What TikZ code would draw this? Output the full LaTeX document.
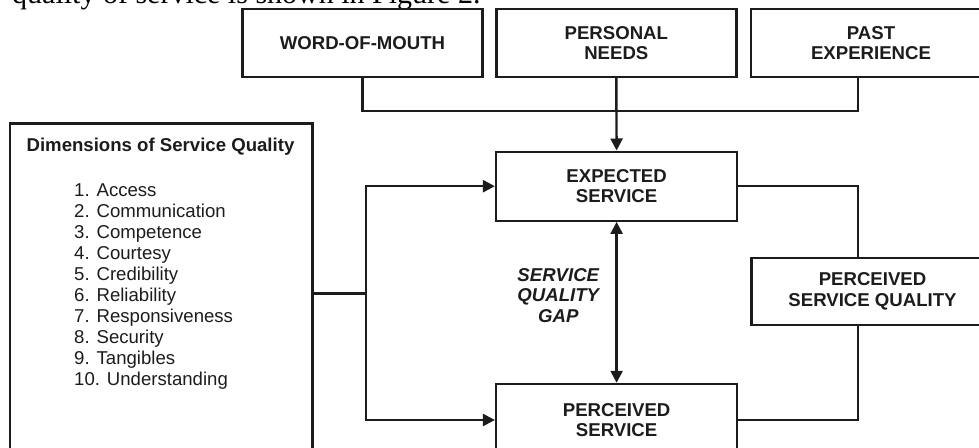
\documentclass[tikz,border=0pt]{standalone}
\usepackage{fontspec}
\setmainfont{Liberation Serif}
\setsansfont{Liberation Sans}
\usepackage{tikz}
\usetikzlibrary{calc}
\usetikzlibrary{arrows.meta}
\tikzset{>={Triangle[length=12pt,width=12pt]}}
\definecolor{ink}{HTML}{1C1C1C}
\tikzstyle{box}=[draw=ink,line width=2.4pt,rectangle,align=center,text=ink,
                 font=\sffamily\bfseries\fontsize{18.6}{20.5}\selectfont]
\tikzstyle{link}=[draw=ink,line width=2.4pt]
\tikzstyle{link a}=[link,->]
\tikzstyle{link aa}=[link,<->]
\tikzstyle{item}=[anchor=base west,inner sep=0,text=ink,
                  font=\sffamily\fontsize{18.6}{21}\selectfont]

\begin{document}
\begin{tikzpicture}[x=1pt,y=-1pt]
            \useasboundingbox (0,0) rectangle (979,447);
            \clip (0,0) rectangle (979,447);

            \def\wbx{240} % width of the upper boxes
            \def\hbx{68}  % height of the boxes
            \def\xjoin{858} % x of the connectors on the right
            \coordinate (bus) at (616,111);
            \coordinate (fork) at (365.7,293.3);

            % CAPTION (cut off at the top)
            \node[anchor=base west,inner sep=0,font=\fontsize{30}{32}\selectfont]
                (cap) at (12,3) {quality of service is shown in Figure 2.};

            % TOP ROW
            \node[box,minimum width=\wbx,minimum height=\hbx] (wom)  at (362.5,43) {WORD-OF-MOUTH};
            \node[box,minimum width=\wbx,minimum height=\hbx] (need) at (616.3,43) {PERSONAL\\NEEDS};
            \node[box,minimum width=\wbx,minimum height=\hbx] (past) at (871,43)   {PAST\\EXPERIENCE};

            % MIDDLE COLUMN
            \node[box,minimum width=241,minimum height=69] (exp) at (616.6,186.2) {EXPECTED\\SERVICE};
            \node[box,minimum width=241,minimum height=72] (per) at (616.6,420)   {PERCEIVED\\SERVICE};
            \node[box,minimum width=242,minimum height=67] (psq) at (872.5,291.3) {PERCEIVED\\SERVICE QUALITY};
            \node[text=ink,align=center,font=\sffamily\bfseries\itshape\fontsize{18.6}{20.5}\selectfont]
                (gap) at (558.3,295.5) {SERVICE\\QUALITY\\GAP};

            % DIMENSIONS
            \node[draw=ink,line width=2.4pt,minimum width=302.7,minimum height=380] (dim) at (161.3,313.3) {};
            \node[text=ink,font=\sffamily\bfseries\fontsize{18.6}{20.5}\selectfont]
                (dimt) at (160.5,146.7) {Dimensions of Service Quality};
            \foreach \n/\txt in {1/Access,2/Communication,3/Competence,4/Courtesy,5/Credibility,
                                 6/Reliability,7/Responsiveness,8/Security,9/Tangibles,10/Understanding}{
              \node[item] (d\n) at (74,175+21*\n) {\n. \txt};
            }

            % CONNECTORS
            \draw[link] (wom.south) |- (bus) -| (past.south -| \xjoin,0);
            \draw[link a] (need.south) -- (exp.north);
            \draw[link aa] (exp.south) -- (per.north);
            \draw[link] (fork -| dim.east) -- (fork);
            \draw[link a] (fork) |- (exp.west);
            \draw[link a] (fork) |- (per.west);
            \draw[link] (exp.east) -| (psq.north -| \xjoin,0);
            \draw[link] (psq.south -| \xjoin,0) |- (per.east);

        \end{tikzpicture}
\end{document}
